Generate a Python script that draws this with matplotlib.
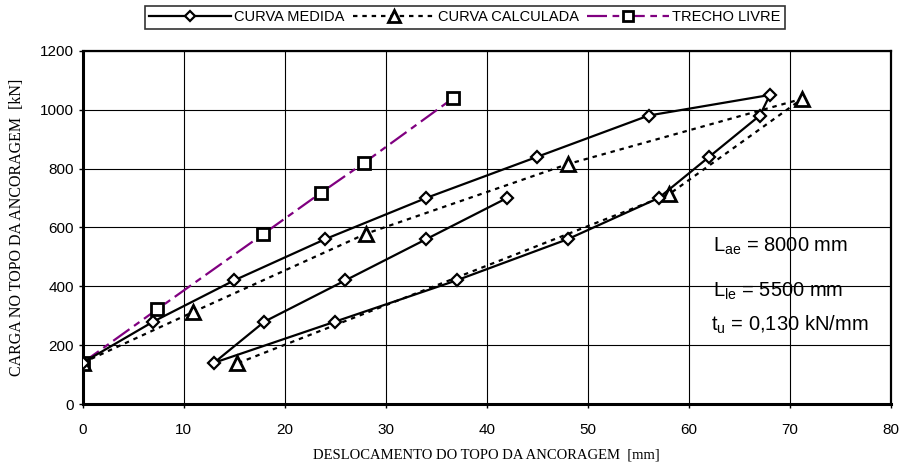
import matplotlib
matplotlib.use('Agg')
import matplotlib.pyplot as plt
from matplotlib import font_manager

# dados
x_medida = [0, 7, 15, 24, 34, 45, 56, 68, 67, 62, 57, 48, 37, 25, 13, 18, 26, 34, 42]
y_medida = [140, 280, 420, 560, 700, 840, 980, 1050, 980, 840, 700, 560, 420, 280, 140, 280, 420, 560, 700]

x_calc = [0, 10.9, 28, 48, 71.2, 58, 15.3]
y_calc = [140, 312, 578, 815, 1037, 712, 138]

x_livre = [0, 7.4, 17.9, 23.6, 27.8, 36.7]
y_livre = [140, 322, 578, 718, 818, 1040]

xticks = list(range(0, 81, 10))
yticks = list(range(0, 1201, 200))

nomes = font_manager.get_font_names()
narrow = 'Liberation Sans Narrow' if 'Liberation Sans Narrow' in nomes else 'Liberation Sans'

plt.rcParams['font.family'] = ['Liberation Sans', 'DejaVu Sans']
plt.rcParams['mathtext.fontset'] = 'custom'
plt.rcParams['mathtext.rm'] = 'Liberation Sans'
plt.rcParams['mathtext.it'] = 'Liberation Sans'

fig = plt.figure(figsize=(9.01, 4.66), dpi=100)
ax = fig.add_axes([0.0916, 0.133, 0.8975, 0.758])

# curvas
ax.plot(x_livre, y_livre, color='#800080', lw=1.6, dashes=(9, 2.5, 3, 2.5),
        marker='s', ms=9, mfc='white', mec='black', mew=2, label='TRECHO LIVRE', zorder=3)
ax.plot(x_calc, y_calc, color='black', lw=1.6, dashes=(2, 2.2),
        marker='^', ms=10, mfc='white', mec='black', mew=2, label='CURVA CALCULADA', zorder=4)
ax.plot(x_medida, y_medida, color='black', lw=1.6, marker='D', ms=6.5,
        mfc='white', mec='black', mew=1.6, label='CURVA MEDIDA', zorder=5)

ax.set_xlim(0, 80)
ax.set_ylim(0, 1200)
ax.set_xticks(xticks)
ax.set_yticks(yticks)
ax.grid(True, color='black', lw=0.8)
ax.set_axisbelow(True)
ax.tick_params(direction='out', length=3, width=1, pad=11)
for lab in ax.get_xticklabels() + ax.get_yticklabels():
    lab.set_fontfamily(narrow)
    lab.set_fontsize(11)
ax.tick_params(axis='y', pad=3)
for s in ['left', 'bottom']:
    ax.spines[s].set_linewidth(2.2)
for s in ['top', 'right']:
    ax.spines[s].set_linewidth(1.6)

ax.set_xlabel('DESLOCAMENTO DO TOPO DA ANCORAGEM  [mm]', family='Liberation Serif', fontsize=10.5, labelpad=8)
ax.set_ylabel('CARGA NO TOPO DA ANCORAGEM  [kN]', family='Liberation Serif', fontsize=11.5, labelpad=11)

# textos
ax.text(62.4, 516, r'L$_{\mathrm{ae}}$ = 8000 mm', fontsize=14.5, va='baseline')
ax.text(62.4, 363, r'L$_{\mathrm{le}}$ = 5500 mm', fontsize=14.5, va='baseline')
ax.text(62.2, 248, r't$_{\mathrm{u}}$ = 0,130 kN/mm', fontsize=14.5, va='baseline')

# legenda
h, l = ax.get_legend_handles_labels()
leg = fig.legend(h[::-1], l[::-1], loc='center', bbox_to_anchor=(0.516, 0.963), ncol=3,
                 fontsize=10.5, frameon=True, fancybox=False, edgecolor='black',
                 handlelength=5.6, columnspacing=0.6, handletextpad=0.2,
                 borderpad=0.3, markerscale=0.8)
leg.get_frame().set_linewidth(1.2)

fig.savefig('out.png', dpi=100)
